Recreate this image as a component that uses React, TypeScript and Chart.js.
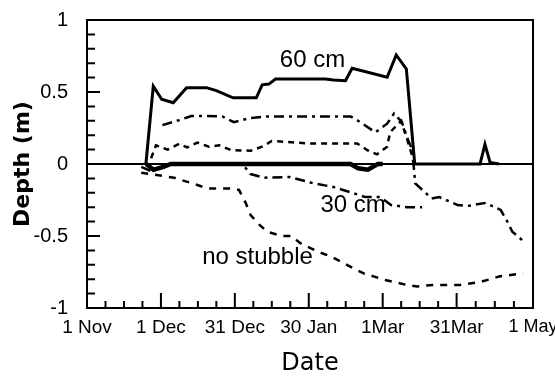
import React, { useEffect, useRef } from "react";
import { Chart, registerables } from "chart.js";

Chart.register(...registerables);

// Axis ticks (days since 1 Nov)
const tickDays = [0, 30, 60, 90, 120, 150, 181];
const tickLabels = ["1 Nov", "1 Dec", "31 Dec", "30 Jan", "1Mar", "31Mar", "1 May"];
const yTickValues = [-1, -0.5, 0, 0.5, 1];
const yTickLabels = ["-1", "-0.5", "0", "0.5", "1"];

// 60 cm stubble – snow depth (solid)
const snow60Days = [23.9, 26.9, 30.3, 35, 40.4, 48.5, 52.5, 59.3, 68.7, 71.1, 73.8, 76.5, 96.8, 100, 104.9, 107.6, 121.8, 125.5, 129.6, 133, 159.5, 161.5, 163.6, 167.2];
const snow60Values = [0, 0.54, 0.45, 0.425, 0.53, 0.53, 0.51, 0.46, 0.46, 0.55, 0.555, 0.59, 0.59, 0.583, 0.578, 0.665, 0.602, 0.757, 0.66, 0, 0, 0.137, 0.01, 0];

// 60 cm stubble – frost depth (thick solid near zero)
const frost60Days = [24, 27, 31, 34, 107, 110, 114, 118, 120];
const frost60Values = [0, -0.04, -0.02, 0, 0, -0.03, -0.04, 0, 0];

// 30 cm stubble – snow depth then frost (dash-dot)
const snow30Days = [30.6, 37.4, 42.3, 48.2, 54.9, 59.6, 65.7, 72, 77.5, 100, 107, 111, 117, 121.8, 124.6, 127.8, 129.8, 131.9, 132.5, 133.2, 139.9, 143, 150.4, 155, 161.8, 167.9, 170.6, 172.6, 176.7];
const snow30Values = [0.27, 0.305, 0.333, 0.333, 0.33, 0.29, 0.317, 0.33, 0.33, 0.33, 0.33, 0.29, 0.22, 0.28, 0.35, 0.29, 0.19, 0.1, 0, -0.134, -0.24, -0.23, -0.285, -0.29, -0.27, -0.32, -0.4, -0.47, -0.53];

// 30 cm stubble – frost depth (dash-dot)
const frost30Days = [22, 26, 30, 34, 62, 64.5, 66.4, 72, 82, 89, 91, 100, 107.6, 113, 119, 123.4, 130, 136];
const frost30Values = [-0.02, -0.05, -0.03, 0, 0, -0.03, -0.07, -0.095, -0.09, -0.12, -0.13, -0.16, -0.2, -0.23, -0.23, -0.285, -0.3, -0.3];

// no stubble – snow depth (dotted)
const snowNoDays = [26, 28, 32.7, 37.4, 40.7, 44.8, 49.5, 53.6, 58.3, 66.4, 71, 75, 89.3, 109.6, 113.7, 117.7, 121.8, 123, 127.5, 129.2, 130.5, 131.9, 132.6];
const snowNoValues = [0.04, 0.13, 0.1, 0.14, 0.115, 0.148, 0.12, 0.13, 0.097, 0.092, 0.12, 0.16, 0.143, 0.143, 0.097, 0.067, 0.12, 0.22, 0.3, 0.21, 0.14, 0.06, 0];

// no stubble – frost depth (dashed)
const frostNoDays = [22, 35.3, 44.8, 49, 58, 61.7, 64.4, 66.4, 69.8, 73.2, 79, 83, 86.6, 90.7, 95.4, 98.8, 107.6, 112.3, 121, 129.8, 133.9, 140.6, 151.4, 159.5, 167.6, 177];
const frostNoValues = [-0.06, -0.095, -0.146, -0.17, -0.17, -0.18, -0.27, -0.354, -0.42, -0.47, -0.5, -0.5, -0.55, -0.585, -0.62, -0.64, -0.72, -0.76, -0.805, -0.84, -0.85, -0.84, -0.84, -0.82, -0.78, -0.76];

// In-plot text labels (data coordinates)
const noteTexts = ["60 cm", "30 cm", "no stubble"];
const noteDays = [91.5, 108, 69.2];
const noteValues = [0.72, -0.285, -0.646];

const toPts = (xs: number[], ys: number[]) => xs.map((x, i) => ({ x, y: ys[i] }));

const TICK_FONT = '"Liberation Sans", Arial, sans-serif';

const framePlugin = {
  id: "frameTicks",
  afterDraw(chart: any) {
    const { ctx, chartArea, scales } = chart;
    const xs = scales.x;
    const ys = scales.y;
    ctx.save();
    ctx.strokeStyle = "#000";
    ctx.lineWidth = 2;
    ctx.strokeRect(chartArea.left, chartArea.top, chartArea.right - chartArea.left, chartArea.bottom - chartArea.top);
    ctx.lineWidth = 2;
    ctx.beginPath();
    for (let i = 0; i < tickDays.length; i++) {
      const px = xs.getPixelForValue(tickDays[i]);
      ctx.moveTo(px, chartArea.bottom);
      ctx.lineTo(px, chartArea.bottom - 15);
      if (i < tickDays.length - 1) {
        const step = (tickDays[i + 1] - tickDays[i]) / 4;
        for (let k = 1; k < 4; k++) {
          const mx = xs.getPixelForValue(tickDays[i] + k * step);
          ctx.moveTo(mx, chartArea.bottom);
          ctx.lineTo(mx, chartArea.bottom - 7);
        }
      }
    }
    for (let j = -10; j <= 10; j++) {
      const py = ys.getPixelForValue(j / 10);
      const len = j % 5 === 0 ? 13 : 8;
      ctx.moveTo(chartArea.left, py);
      ctx.lineTo(chartArea.left + len, py);
    }
    ctx.stroke();
    ctx.fillStyle = "#000";
    ctx.font = '24px "Liberation Sans", Arial, sans-serif';
    ctx.textAlign = "center";
    ctx.textBaseline = "middle";
    for (let i = 0; i < noteTexts.length; i++) {
      ctx.fillText(noteTexts[i], xs.getPixelForValue(noteDays[i]), ys.getPixelForValue(noteValues[i]));
    }
    ctx.restore();
  },
};

const zeroPad = (s: any) => {
  s.paddingTop = 0;
  s.paddingBottom = 0;
  s.paddingLeft = 0;
  s.paddingRight = 0;
};

export default function App() {
  const ref = useRef<HTMLCanvasElement | null>(null);
  useEffect(() => {
    if (!ref.current) return;
    const base = { borderColor: "#000", pointRadius: 0, tension: 0, fill: false };
    const chart = new Chart(ref.current, {
      type: "line",
      data: {
        datasets: [
          { ...base, label: "60 cm snow", data: toPts(snow60Days, snow60Values), borderWidth: 3 },
          { ...base, label: "60 cm frost", data: toPts(frost60Days, frost60Values), borderWidth: 4.5 },
          { ...base, label: "30 cm", data: toPts(snow30Days, snow30Values), borderWidth: 2.5, borderDash: [10, 5, 3, 5] },
          { ...base, label: "30 cm frost", data: toPts(frost30Days, frost30Values), borderWidth: 2.5, borderDash: [10, 5, 3, 5] },
          { ...base, label: "no stubble snow", data: toPts(snowNoDays, snowNoValues), borderWidth: 2.5, borderDash: [6, 5] },
          { ...base, label: "no stubble frost", data: toPts(frostNoDays, frostNoValues), borderWidth: 2.5, borderDash: [7, 7] },
        ],
      } as any,
      options: {
        animation: false,
        responsive: false,
        devicePixelRatio: 1,
        layout: { padding: { top: 20, right: 22, left: 0, bottom: 0 } },
        plugins: { legend: { display: false }, tooltip: { enabled: false } },
        scales: {
          x: {
            type: "linear",
            min: 0,
            max: 181,
            afterBuildTicks: (s: any) => {
              s.ticks = tickDays.map((v) => ({ value: v }));
            },
            afterFit: (s: any) => {
              s.height = 69;
              zeroPad(s);
            },
            ticks: {
              autoSkip: false,
              maxRotation: 0,
              padding: 8,
              color: "#000",
              font: (c: any) => ({ family: TICK_FONT, size: c.tick && c.tick.value === 181 ? 18 : 19 }),
              callback: (v: any) => tickLabels[tickDays.indexOf(Number(v))] ?? "",
            },
            grid: { display: false, drawTicks: false },
            border: { display: false },
            title: {
              display: true,
              text: "Date",
              color: "#000",
              font: { family: '"DejaVu Sans", sans-serif', size: 24, lineHeight: 1.1 },
              padding: { top: 0, bottom: 0 },
            },
          },
          y: {
            type: "linear",
            min: -1,
            max: 1,
            afterBuildTicks: (s: any) => {
              s.ticks = yTickValues.map((v) => ({ value: v }));
            },
            afterFit: (s: any) => {
              s.width = 87;
              zeroPad(s);
            },
            ticks: {
              padding: 19,
              color: "#000",
              font: { family: TICK_FONT, size: 20 },
              callback: (v: any) => yTickLabels[yTickValues.indexOf(Number(v))] ?? "",
            },
            grid: {
              drawTicks: false,
              lineWidth: 2,
              color: (c: any) => (c.tick && c.tick.value === 0 ? "#000" : "rgba(0,0,0,0)"),
            },
            border: { display: false },
            title: {
              display: true,
              text: "Depth (m)",
              color: "#000",
              font: { family: '"DejaVu Sans", sans-serif', size: 22, weight: "bold" },
              padding: { top: 10, bottom: 0 },
            },
          },
        },
      } as any,
      plugins: [framePlugin],
    });
    return () => chart.destroy();
  }, []);
  return (
    <div style={{ position: "fixed", left: 0, top: 0, width: 555, height: 377, background: "#fff" }}>
      <canvas ref={ref} width={555} height={377} />
    </div>
  );
}
